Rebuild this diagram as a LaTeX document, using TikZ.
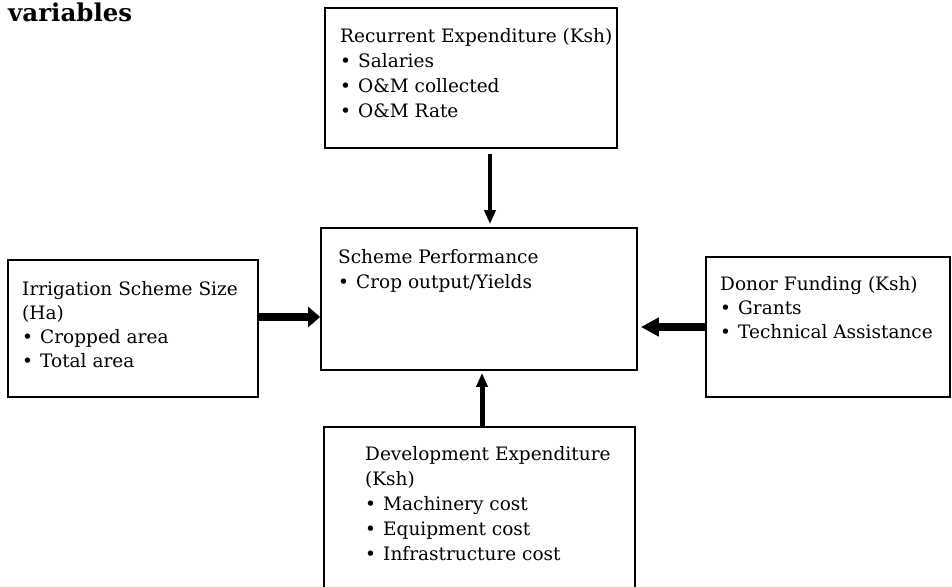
\documentclass[tikz,border=0pt]{standalone}
\usepackage{fontspec}
\setmainfont{DejaVu Serif}
\usetikzlibrary{positioning,calc,arrows.meta}
\newcommand{\itm}[1]{\makebox[18pt][l]{\textbullet}#1}

\begin{document}
\begin{tikzpicture}[x=1pt,y=-1pt,
    every node/.append style={font=\fontsize{18.5}{25}\selectfont},
    box/.style={draw, line width=1.8pt, inner sep=0},
    txt/.style={anchor=north west, align=left, inner sep=0},
    tight/.style={font=\fontsize{18.5}{24}\selectfont},
    vflow/.style={line width=4pt, -{Triangle[length=14pt,width=11pt]}},
    hflow/.style={line width=8pt, -{Triangle[length=14pt,width=20pt]}}]
    \useasboundingbox (0,0) rectangle (952,586);
    \node[anchor=base west, inner sep=0, font=\fontsize{24.5}{25}\selectfont\bfseries]
        (title) at (8,21.5) {variables};

    % boxes
    \node[box, minimum width=292pt, minimum height=140pt] (rec)   at (471,78) {};
    \node[box, minimum width=316pt, minimum height=142pt] (perf)  at (479,299) {};
    \node[box, minimum width=250pt, minimum height=137pt] (size)  at (133,328.5) {};
    \node[box, minimum width=244pt, minimum height=140pt] (donor) at (828,327) {};
    \node[box, minimum width=311pt, minimum height=163pt] (dev)   at (479.5,508.5) {};

    % texts
    \node[txt] (rectxt) at (340,28) {Recurrent Expenditure (Ksh)\\
        \itm{Salaries}\\ \itm{O\&M collected}\\ \itm{O\&M Rate}};
    \node[txt] (perftxt) at (338,249) {Scheme Performance\\ \itm{Crop output/Yields}};
    \node[txt, tight] (sizetxt) at (22,281) {Irrigation Scheme Size\\ (Ha)\\
        \itm{Cropped area}\\ \itm{Total area}};
    \node[txt, tight] (donortxt) at (720,276) {Donor Funding (Ksh)\\
        \itm{Grants}\\ \itm{Technical Assistance}};
    \node[txt] (devtxt) at (365,446) {Development Expenditure\\ (Ksh)\\
        \itm{Machinery cost}\\ \itm{Equipment cost}\\ \itm{Infrastructure cost}};

    % arrows
    \draw[vflow] ([xshift=19pt,yshift=-5pt]rec.south) -- ([xshift=11pt,yshift=3pt]perf.north);
    \draw[vflow, line width=5pt] ([xshift=2.5pt]dev.north) -- ([xshift=3pt,yshift=-2pt]perf.south);
    \draw[hflow, -{Triangle[length=12pt,width=20pt]}] ([yshift=11.5pt]size.east) -- ([yshift=-18pt]perf.west);
    \draw[hflow, -{Triangle[length=18pt,width=18pt]}] (donor.west) -- ([xshift=3pt,yshift=-28pt]perf.east);
\end{tikzpicture}
\end{document}
